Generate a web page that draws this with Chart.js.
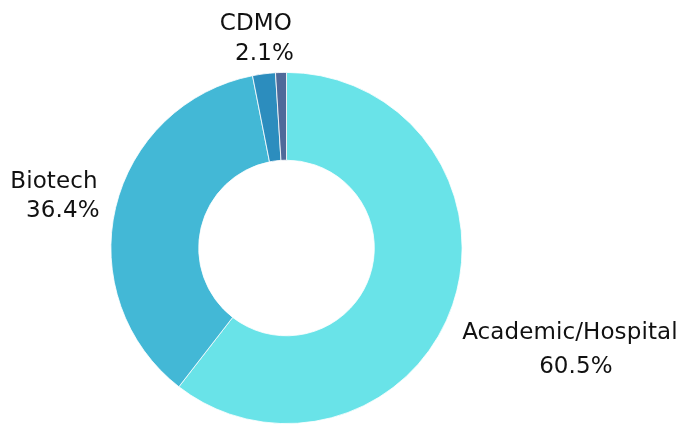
<!DOCTYPE html>
<html>
<head>
<meta charset="utf-8">
<script src="https://cdn.jsdelivr.net/npm/chart.js@4"></script>
<style>
html,body{margin:0;padding:0;background:#fff;}
#wrap{width:680px;height:424px;position:relative;}
</style>
</head>
<body>
<div id="wrap"><canvas id="c" width="680" height="424"></canvas></div>
<script>
const categories = ["Academic/Hospital", "Biotech", "CDMO", "Other"];
const shares = [60.5, 36.4, 2.1, 1.0];
const sliceColors = ["#69E3E8", "#43B8D6", "#2C8DBE", "#4F6A9A"];
const showLabel = [true, true, true, false];

const labelPlugin = {
  id: 'sliceLabels',
  afterDatasetsDraw(chart) {
    const ctx = chart.ctx;
    const meta = chart.getDatasetMeta(0);
    ctx.save();
    ctx.font = '23px "DejaVu Sans", Verdana, sans-serif';
    if ('letterSpacing' in ctx) ctx.letterSpacing = '0.1px';
    ctx.fillStyle = '#111111';
    ctx.textBaseline = 'alphabetic';
    meta.data.forEach((arc, i) => {
      if (!showLabel[i]) return;
      const p = arc.getProps(['x','y','startAngle','endAngle','outerRadius'], true);
      const mid = (p.startAngle + p.endAngle) / 2;
      const ax = p.x + Math.cos(mid) * p.outerRadius;
      const ay = p.y + Math.sin(mid) * p.outerRadius;
      const l1 = categories[i];
      const l2 = shares[i].toFixed(1) + '%';
      if (Math.cos(mid) > 0.3) {
        const w1 = ctx.measureText(l1).width;
        const x0 = ax + 9.5;
        ctx.textAlign = 'left';
        ctx.fillText(l1, x0, ay + 34);
        ctx.textAlign = 'center';
        ctx.fillText(l2, x0 + w1 / 2 + 6, ay + 68);
      } else if (Math.cos(mid) < -0.3) {
        ctx.textAlign = 'right';
        ctx.fillText(l1, ax - 18, ay - 19.5);
        ctx.fillText(l2, ax - 16, ay + 9);
      } else {
        ctx.textAlign = 'right';
        ctx.fillText(l1, ax + 28, ay - 44);
        ctx.fillText(l2, ax + 30, ay - 14);
      }
    });
    ctx.restore();
  }
};

new Chart(document.getElementById('c'), {
  type: 'doughnut',
  data: {
    labels: categories,
    datasets: [{
      data: shares,
      backgroundColor: sliceColors,
      borderColor: '#ffffff',
      borderWidth: 0.8
    }]
  },
  options: {
    responsive: false,
    animation: false,
    cutout: '50%',
    rotation: 0,
    layout: { padding: { left: 110, right: 217, top: 72, bottom: 0 } },
    plugins: { legend: { display: false }, tooltip: { enabled: false } }
  },
  plugins: [labelPlugin]
});
</script>
</body>
</html>
